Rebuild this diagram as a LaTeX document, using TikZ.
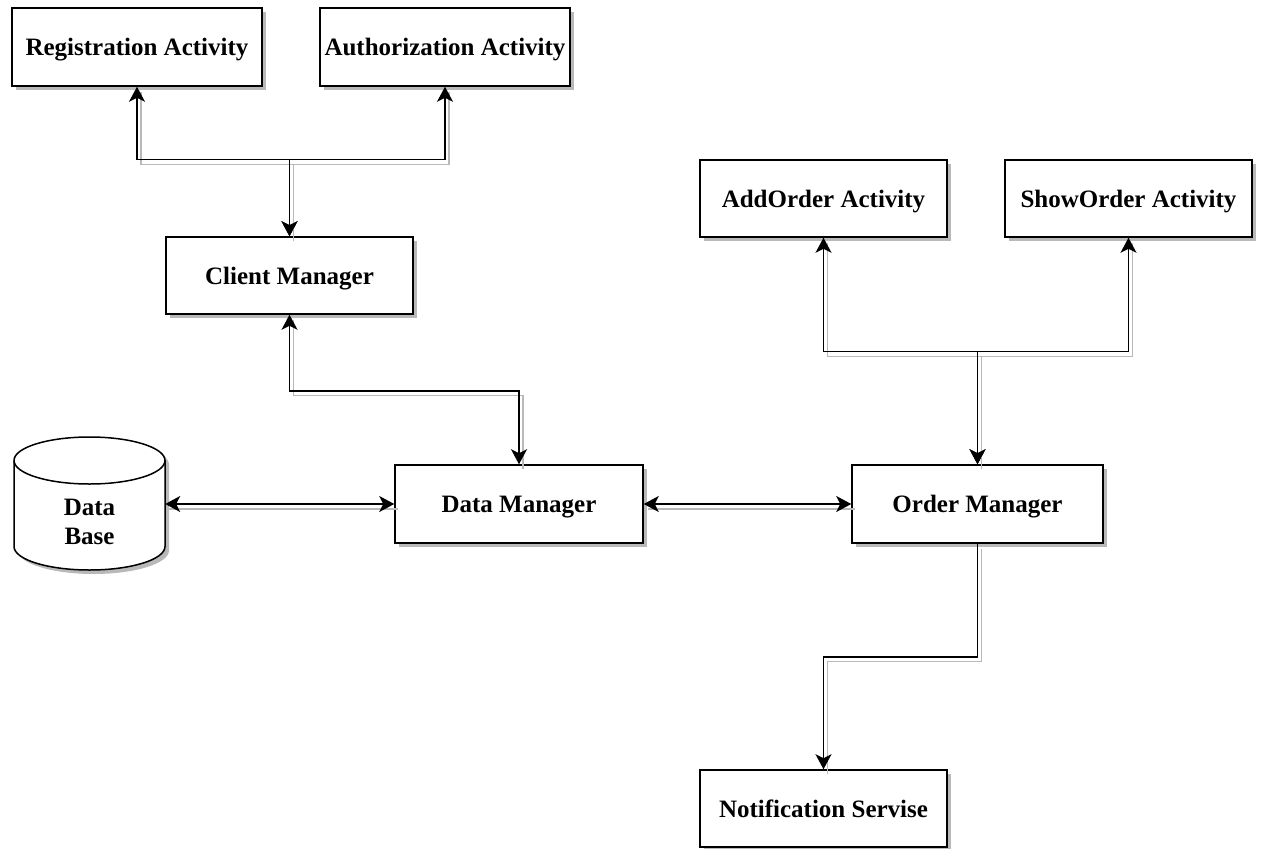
\documentclass[tikz,border=0pt]{standalone}
\usepackage{fontspec}
\setmainfont{Liberation Serif}
\usetikzlibrary{arrows.meta,calc}
\tikzset{
  tip/.tip={Stealth[length=15pt,width=16pt,inset=4pt]},
  box/.style={draw=black, line width=1.5pt, fill=white, minimum width=#1, minimum height=77pt, inner sep=0pt,
    text depth=0pt, font=\fontsize{25}{29}\selectfont\bfseries,
    preaction={fill=gray!55, draw=none, transform canvas={xshift=4pt,yshift=-4pt}}},
  box/.default=247pt,
  conn/.style={draw=black, line width=1.5pt, tip-tip,
    preaction={draw=gray!55, line width=1.2pt, arrows=-, transform canvas={xshift=4pt,yshift=-5pt}}},
  connone/.style={draw=black, line width=1.5pt, -tip,
    preaction={draw=gray!55, line width=1.2pt, arrows=-, transform canvas={xshift=4pt,yshift=-5pt}}},
}
\begin{document}
\begin{tikzpicture}[x=1pt,y=-1pt]
\useasboundingbox (0,0) rectangle (1262,849);
% boxes
\node[box=250pt, minimum height=78pt] (reg) at (137,47) {Registration Activity};
\node[box=250pt, minimum height=78pt] (auth) at (445,47) {Authorization Activity};
\node[box] (cm) at (289.5,275.5) {Client Manager};
\node[box] (add) at (823.5,198.5) {AddOrder Activity};
\node[box] (show) at (1128.5,198.5) {ShowOrder Activity};
\node[box=248pt, minimum height=78pt] (dm) at (519,504) {Data Manager};
\node[box=251pt, minimum height=78pt] (om) at (977.5,504) {Order Manager};
\node[box] (ns) at (823.5,808.5) {Notification Servise};
% database cylinder: shadow then body
\fill[gray!55, shift={(4,4)}] (14,460.5) -- (14,546.5)
   arc[start angle=180, end angle=360, x radius=75.5pt, y radius=23.5pt]
   -- (165,460.5) arc[start angle=0, end angle=180, x radius=75.5pt, y radius=23.5pt] -- cycle;
\draw[line width=1.5pt, fill=white] (14,460.5) -- (14,546.5)
   arc[start angle=180, end angle=360, x radius=75.5pt, y radius=23.5pt]
   -- (165,460.5) arc[start angle=0, end angle=180, x radius=75.5pt, y radius=23.5pt] -- cycle;
\draw[line width=1.5pt] (14,460.5) arc[start angle=180, end angle=360, x radius=75.5pt, y radius=23.5pt];
\node[minimum width=151pt, minimum height=133pt, inner sep=0pt] (db) at (89.5,503.5) {};
\node[align=center, font=\fontsize{25}{29}\selectfont\bfseries] (dbt) at (89.5,522) {Data\\Base};
% connectors
\draw[conn] (cm.north) -- ++(0,-77) -| (reg.south);
\draw[conn] (cm.north) -- ++(0,-77) -| (auth.south);
\draw[conn] (cm.south) -- ++(0,76) -| (dm.north);
\draw[conn] (db.east |- dm.west) -- (dm.west);
\draw[conn] (dm.east) -- (om.west);
\draw[conn] (om.north) -- ++(0,-113) -| (add.south);
\draw[conn] (om.north) -- ++(0,-113) -| (show.south);
\draw[connone] (om.south) -- ++(0,113) -| (ns.north);
\end{tikzpicture}
\end{document}
